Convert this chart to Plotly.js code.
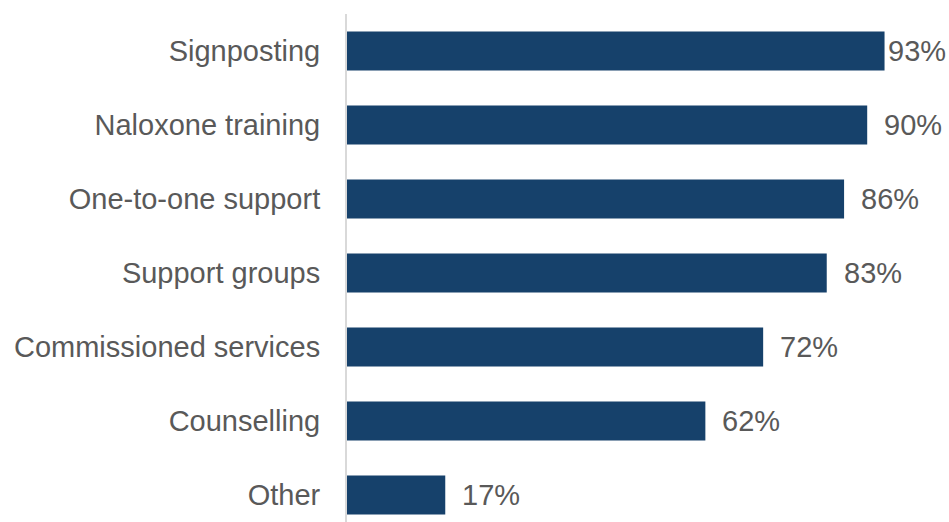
<!DOCTYPE html>
<html>
<head>
<meta charset="utf-8">
<script src="https://cdn.plot.ly/plotly-3.0.1.min.js"></script>
<style>html,body{margin:0;padding:0;background:#fff;}#chart{width:949px;height:522px;}</style>
</head>
<body>
<div id="chart"></div>
<script>
const categories = ["Signposting", "Naloxone training", "One-to-one support", "Support groups", "Commissioned services", "Counselling", "Other"];
const values = [93, 90, 86, 83, 72, 62, 17];

const FONT = "Liberation Sans, Arial, sans-serif";
const annotations = categories.map((c, i) => ({
  x: values[i], y: c, xref: 'x', yref: 'y',
  text: values[i] + '%', showarrow: false,
  xanchor: 'left', yanchor: 'middle',
  xshift: values[i] >= 93 ? 1 : 15,
  font: {family: FONT, size: 29, color: '#595959'}
}));

const trace = {
  type: 'bar', orientation: 'h',
  x: values, y: categories,
  marker: {color: '#16416B'},
  hoverinfo: 'none'
};

const layout = {
  width: 949, height: 522,
  margin: {l: 347, r: 24, t: 14, b: 0, pad: 0},
  paper_bgcolor: '#ffffff', plot_bgcolor: '#ffffff',
  showlegend: false,
  bargap: 0.47,
  xaxis: {range: [0, 100], visible: false, fixedrange: true},
  yaxis: {
    type: 'category',
    range: [6.365, -0.5],
    showline: true, linecolor: '#d9d9d9', linewidth: 2,
    showgrid: false, zeroline: false, ticks: '',
    ticklabelstandoff: 19,
    tickfont: {family: FONT, size: 29, color: '#595959'},
    fixedrange: true
  },
  annotations: annotations
};

Plotly.newPlot('chart', [trace], layout, {displayModeBar: false, staticPlot: true});
</script>
</body>
</html>
